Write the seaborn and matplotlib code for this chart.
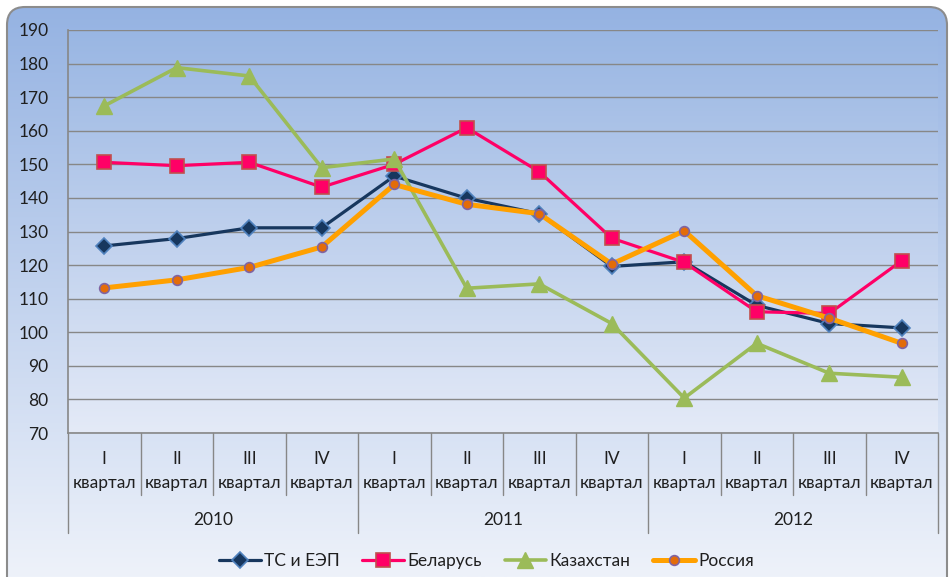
import numpy as np
import pandas as pd
import matplotlib
matplotlib.use('Agg')
import matplotlib.pyplot as plt
import seaborn as sns
from matplotlib.patches import FancyBboxPatch
from matplotlib.transforms import blended_transform_factory
from matplotlib.lines import Line2D
from matplotlib.colors import LinearSegmentedColormap

# ---- data ----
quarters = ['I', 'II', 'III', 'IV'] * 3
quarter_word = 'квартал'
years = ['2010', '2011', '2012']
series_names = ['ТС и ЕЭП', 'Беларусь', 'Казахстан', 'Россия']
ts_eep = [125.7, 127.9, 131.1, 131.1, 146.5, 139.9, 135.3, 119.6, 121.0, 108.0, 102.6, 101.3]
belarus = [150.6, 149.6, 150.6, 143.2, 150.0, 160.9, 147.8, 128.0, 120.8, 106.1, 105.6, 121.3]
kazakhstan = [167.4, 178.8, 176.3, 149.0, 151.6, 113.1, 114.4, 102.6, 80.4, 96.7, 87.8, 86.6]
russia = [113.2, 115.6, 119.3, 125.4, 144.0, 138.1, 135.3, 120.3, 130.2, 110.9, 104.2, 96.7]
yticks = list(range(70, 191, 10))

sns.set_style('white')
plt.rcParams['font.family'] = ['Lato', 'DejaVu Sans']

W, H = 949, 577
fig = plt.figure(figsize=(W / 100, H / 100), dpi=100)
fig.patch.set_facecolor('white')

# background rounded panel with gradient
bg = fig.add_axes([0, 0, 1, 1], zorder=-10)
bg.set_xlim(0, W)
bg.set_ylim(H, 0)
bg.axis('off')
cmap = LinearSegmentedColormap.from_list('g', ['#94b2e2', '#eef2fa'])
grad = np.linspace(0, 1, 256)[:, None]
im = bg.imshow(grad, cmap=cmap, extent=(0, W, H, 0), aspect='auto')
box = FancyBboxPatch((7, 7), 940, 590, boxstyle='round,pad=0,rounding_size=18',
                     fc='none', ec='#8c8c8c', lw=1.5)
bg.add_patch(box)
im.set_clip_path(box)

ax = fig.add_axes([68 / W, 1 - 433 / H, (938 - 68) / W, (433 - 30) / H])
ax.set_facecolor('none')

# plot-area gradient
cmap2 = LinearSegmentedColormap.from_list('g2', ['#99b6e3', '#e4eaf7'])
ax.imshow(grad, cmap=cmap2, extent=(-0.5, 11.5, 70, 190), aspect='auto', zorder=-5)

x = np.arange(len(quarters))
df = pd.DataFrame({'pos': np.tile(x, 4),
                   'value': ts_eep + belarus + kazakhstan + russia,
                   'series': np.repeat(series_names, len(x))})

styles = {
    'ТС и ЕЭП': dict(color='#17375e', lw=2.3, marker='D', ms=8.5, mfc='#17375e', mec='#4f81bd', mew=1.2),
    'Беларусь': dict(color='#ff0066', lw=2.3, marker='s', ms=10.5, mfc='#ff0066', mec='#c0504d', mew=1.2),
    'Казахстан': dict(color='#9bbb59', lw=2.6, marker='^', ms=11, mfc='#9bbb59', mec='#9bbb59', mew=1.0),
    'Россия': dict(color='#ffa000', lw=3.6, marker='o', ms=7, mfc='#e36c09', mec='#8064a2', mew=1.2),
}
for name in series_names:
    st = styles[name]
    sub = df[df['series'] == name]
    sns.lineplot(data=sub, x='pos', y='value', ax=ax, label=name, color=st['color'],
                 linewidth=st['lw'], marker=st['marker'], markersize=st['ms'],
                 markerfacecolor=st['mfc'], markeredgecolor=st['mec'], markeredgewidth=st['mew'],
                 errorbar=None)

ax.set_xlim(-0.5, 11.5)
ax.set_ylim(70, 190)
ax.set_xlabel('')
ax.set_ylabel('')
ax.set_xticks([])
ax.set_yticks(yticks)
ax.yaxis.grid(True, color='#878787', lw=1.0)
ax.set_axisbelow(True)
for s in ['top', 'right']:
    ax.spines[s].set_visible(False)
for s in ['left', 'bottom']:
    ax.spines[s].set_color('#878787')
    ax.spines[s].set_linewidth(1.2)
ax.tick_params(axis='y', length=6, width=1, color='#878787', direction='out',
               labelsize=12.5, pad=8, labelcolor='#1f1f1f')

# category axis labels
tr = blended_transform_factory(ax.transData, ax.transAxes)
for i, q in enumerate(quarters):
    ax.text(i, -0.0645, q, transform=tr, ha='center', va='center', fontsize=12.5, color='#1f1f1f')
    ax.text(i, -0.124, quarter_word, transform=tr, ha='center', va='center', fontsize=12.5, color='#1f1f1f')
for j, yr in enumerate(years):
    ax.text(4 * j + 1.5, -0.216, yr, transform=tr, ha='center', va='center', fontsize=12.5, color='#1f1f1f')
for b in np.arange(-0.5, 12, 1.0):
    long = (b + 0.5) % 4 == 0
    ax.add_line(Line2D([b, b], [0, -0.248 if long else -0.154], transform=tr,
                       color='#878787', lw=1.0, clip_on=False))

handles, labels = ax.get_legend_handles_labels()
if ax.get_legend() is not None:
    ax.get_legend().remove()
fig.legend(handles, labels, loc='center', bbox_to_anchor=(0.5127, 1 - 561 / H), ncol=4,
           frameon=False, fontsize=12.5, handlelength=2.4, columnspacing=1.3, handletextpad=0.2,
           labelcolor='#1f1f1f')

fig.savefig('out.png', dpi=100)
